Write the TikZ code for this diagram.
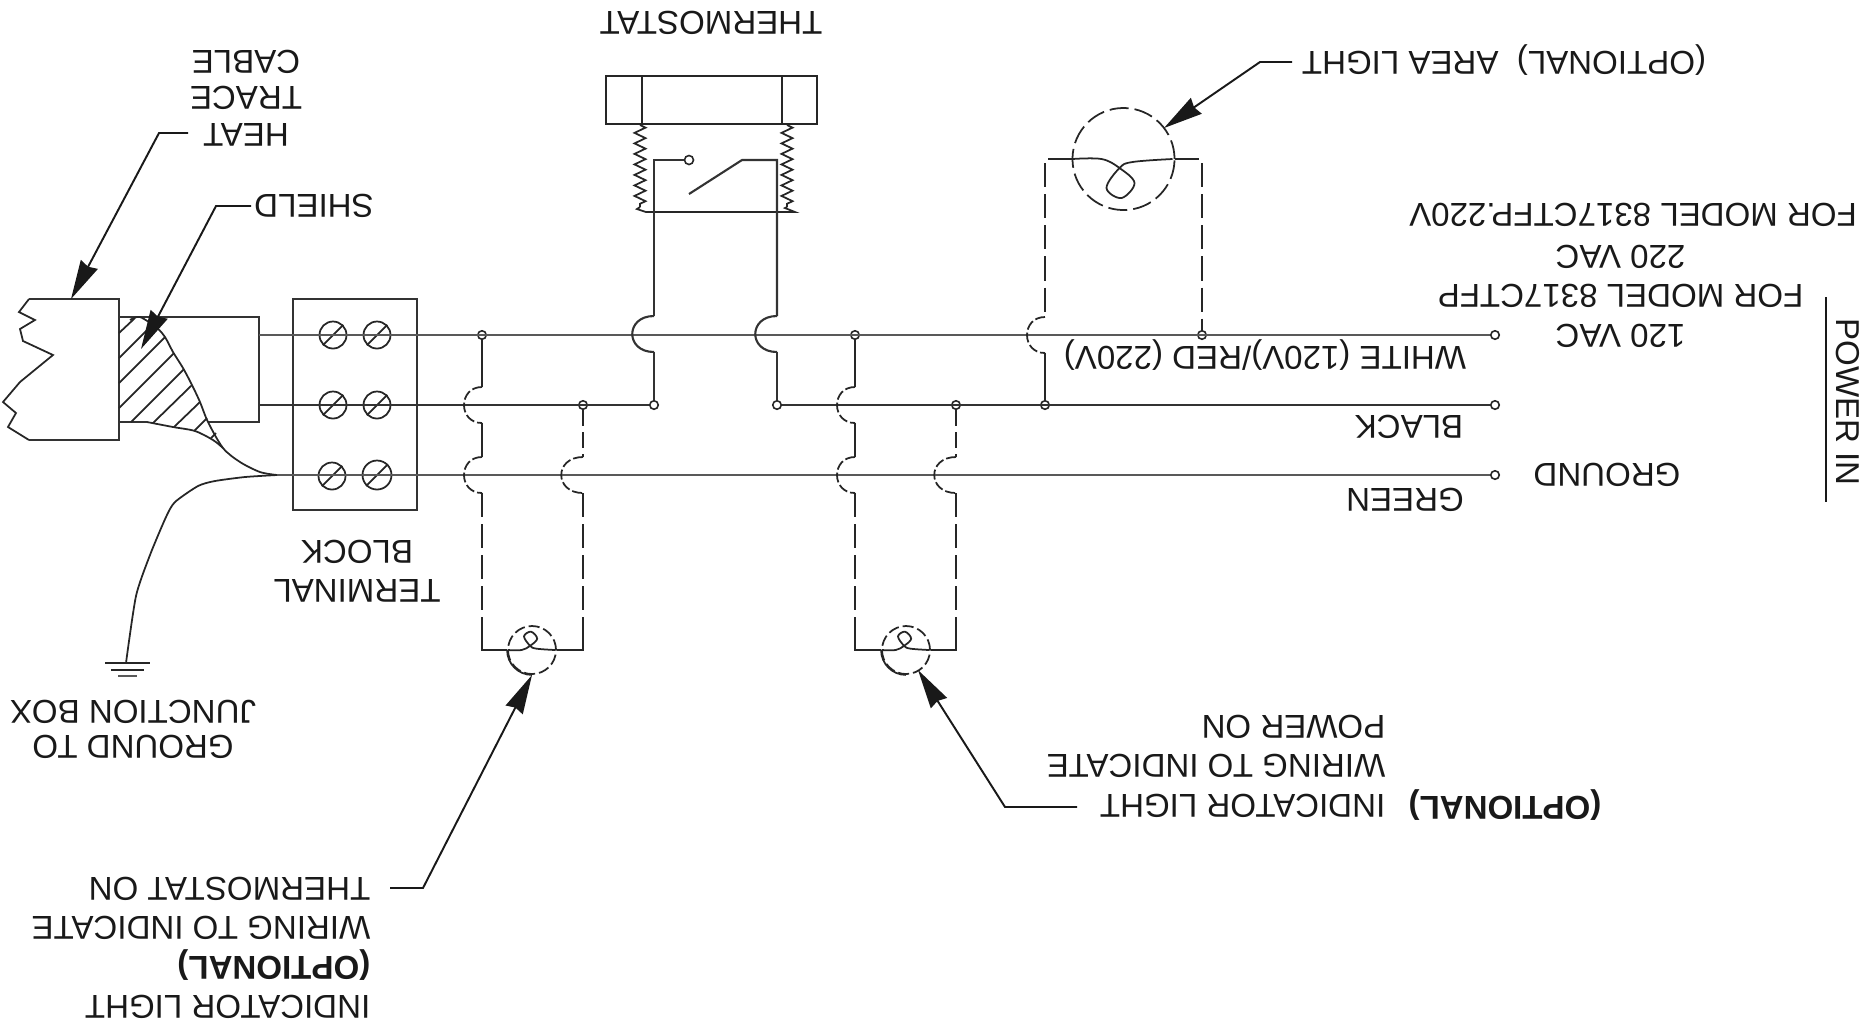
\documentclass[tikz,border=0pt]{standalone}
\usepackage{fontspec}
\setmainfont{Liberation Sans}
\usetikzlibrary{arrows.meta,decorations.pathmorphing}

% Line jumps over a wire, always 36 tall
\newcommand{\hop}{.. controls +(-24,0) and +(-24,0) .. ++(0,36)}
\newcommand{\hopwide}{.. controls +(-29,0) and +(-29,0) .. ++(0,36)}

\tikzset{
    wire/.style={line width=0.75pt,draw=black!65},
    mid wire/.style={line width=0.6pt,draw=black!80},
    thin wire/.style={line width=0.5pt,draw=black!85},
    hopline/.style={line width=0.5pt,draw=black!85,dash pattern=on 1mm off .3mm},
    stubline/.style={line width=0.5pt,draw=black!85,dash pattern=on 1.6mm off .6mm},
    optline/.style={line width=0.5pt,draw=black!85,dash pattern=on 2.4mm off .7mm},
    leader/.style={line width=0.55pt,draw=black!90},
    pointer/.style={leader,-{Stealth[length=3.9mm,width=1.9mm,inset=.25mm]}},
    label/.style={rotate=180,font=\fontsize{9.4}{11.2}\selectfont,text=black!90,inner sep=0pt},
    dot/.style={circle,draw=black!85,line width=0.45pt,minimum size=.085cm,inner sep=0pt},
    screwhead/.style={circle,draw=black!85,line width=0.5pt,inner sep=0pt},
    lampring/.style={circle,draw=black!85,line width=0.5pt,inner sep=0pt},
    filament/.pic={
        \draw[thin wire] plot[smooth,tension=.6] coordinates
            {(-51,0) (-22,0) (-4,9) (11,24) (-2,39) (-17,29) (-4,9) (9,3) (49,0)};
    }
}

\begin{document}
\begin{tikzpicture}[x=0.01cm,y=-0.01cm]
\useasboundingbox (0,0) rectangle (1870,1029);

% Heat trace cable end
\draw[mid wire] (29,299) -- (119,299) -- (119,440) -- (29,440);
\draw[thin wire] (29,299) -- (19,312) -- (35,320) -- (20,329) -- (23,341) -- (53,355)
    -- (20,382) -- (3,402) -- (16,413) -- (8,427) -- (29,440);
\draw[mid wire] (119,422) -- (119,317) -- (259,317) -- (259,422) -- (208,422);
\draw[mid wire] (119,422) -- (147,422);

% Shield
\draw[thin wire] plot[smooth,tension=.5] coordinates
    {(130,320) (140,317) (157,328) (165,337) (173,352) (183,368) (192,385) (200,402)
     (208,422) (223,448) (240,462) (260,472) (277,475)};
\draw[thin wire] plot[smooth,tension=.5] coordinates
    {(147,422) (173,427) (195,431) (213,440) (223,448)};
\foreach \xa/\ya/\xb/\yb in {119/333/135/318,119/358/147/330,119/383/165/337,119/408/174/353,
    131/422/184/369,153/423/192/385,174/427/200/402,194/431/207/418,211/438/216/433}
    \draw[thin wire] (\xa,\ya) -- (\xb,\yb);

% Terminal block
\node[mid wire,draw,minimum width=1.24cm,minimum height=2.11cm,inner sep=0pt]
    (block) at (355,404.5) {};
\foreach \name/\xx/\yy/\size in {a1/333/335/.27cm,b1/377/335/.27cm,a2/333/405/.27cm,
    b2/377/405/.27cm,a3/332/476/.27cm,b3/377/475/.29cm}
{
    \node[screwhead,minimum size=\size] (screw\name) at (\xx,\yy) {};
    \draw[thin wire] (screw\name.225) -- (screw\name.45);
}

% Input wires
\foreach \yy in {335,405,475}
    \node[dot] (end\yy) at (1495,\yy) {};
\foreach \dx/\dy in {482/335,855/335,1202/335,583/405,654/405,777/405,956/405,1045/405}
    \node[dot] (dot\dx) at (\dx,\dy) {};
\draw[wire] (259,335) -- (end335);
\draw[mid wire] (259,405) -- (dot654);
\draw[mid wire] (dot777) -- (end405);
\draw[wire] (277,475) -- (end475);

% Ground tail
\draw[thin wire] plot[smooth,tension=.4] coordinates
    {(277,475) (245,477) (215,481) (198,486) (175,502) (166,517) (150,555) (136,596) (126,663)};
\draw[thin wire] (105,663) -- (150,663);
\draw[thin wire] (111,670) -- (144,670);
\draw[wire] (118,676) -- (137,676);

% Thermostat
\node[draw=black!85,line width=0.6pt,minimum width=2.11cm,minimum height=.48cm,inner sep=0pt]
    (stat) at (711.5,100) {};
\draw[thin wire] (642,76) -- (642,124);
\draw[thin wire] (782,76) -- (782,124);
\draw[thin wire,decorate,decoration={zigzag,segment length=1.05mm,amplitude=.55mm}]
    (640,125) -- (640,207);
\draw[thin wire,decorate,decoration={zigzag,segment length=1.05mm,amplitude=.55mm}]
    (787,125) -- (787,207);
\draw[thin wire] (640,207) -- (637,209) -- (646,212) -- (795,212) -- (785,208) -- (787,207);

% Switch
\node[dot,minimum size=.09cm] (contact) at (689,160) {};
\draw[mid wire] (contact) -- (654,160) -- (654,316) coordinate(a);
\draw[mid wire] (a) \hopwide coordinate(b);
\draw[mid wire] (b) -- (dot654);
\draw[mid wire] (689,194) -- (742,160) -- (777,160) -- (777,316) coordinate(a);
\draw[mid wire] (a) \hopwide coordinate(b);
\draw[mid wire] (b) -- (dot777);

% Area light
\node[lampring,minimum size=1.02cm,dash pattern=on 1.9mm off .6mm] (lampc) at (1123.5,159) {};
\pic at (lampc) {filament};
\draw[optline] (lampc.west) -- (1045,159) -- (1045,317) coordinate(a);
\draw[hopline] (a) \hop coordinate(b);
\draw[thin wire] (b) -- (dot1045);
\draw[optline] (lampc.east) -- (1202,159) -- (dot1202);

% Indicator lights
\foreach \lx/\px/\qx/\name in {532/482/583/a,906/855/956/b}
{
    \node[lampring,minimum size=.48cm,dash pattern=on 1.1mm off .4mm] (lamp\name) at (\lx,650) {};
    \draw[thin wire] (lamp\name.180) to[out=-90,in=180] (lamp\name.-90);
    \pic[xscale=.47,yscale=-.47] at (lamp\name) {filament};
    \draw[thin wire] (dot\px) -- ++(0,52) coordinate(a);
    \draw[hopline] (a) \hop coordinate(b);
    \draw[thin wire] (b) -- ++(0,34) coordinate(a);
    \draw[hopline] (a) \hop coordinate(b);
    \draw[optline] (b) -- (\px,627);
    \draw[thin wire] (\px,627) -- (\px,650) -- (lamp\name.west);
    \draw[stubline] (dot\qx) -- ++(0,52) coordinate(a);
    \draw[hopline] (a) \hopwide coordinate(b);
    \draw[optline] (b) -- (\qx,627);
    \draw[thin wire] (\qx,627) -- (\qx,650) -- (lamp\name.east);
}

% Pointers
\draw[pointer] (188,133) -- (159,133) -- (71,299);
\draw[pointer] (251,206) -- (216,206) -- (141,349);
\draw[pointer] (1292,62) -- (1260,62) -- (1164,128);
\draw[pointer] (390,888) -- (423,888) -- (532,675);
\draw[pointer] (1077,807) -- (1005,807) -- (918,670);

% Power in bar
\draw[leader] (1826,297) -- (1826,502);

% Labels
\node[label] (thermostat) at (711,23) {THERMOSTAT};
\node[label,align=center,font=\fontsize{9.4}{10.3}\selectfont] (cable) at (246,98) {HEAT\\TRACE\\CABLE};
\node[label] (shield) at (314,206) {SHIELD};
\node[label] (arealight) at (1504,60) {(OPTIONAL)\ \ AREA LIGHT};
\node[label,align=center] (models) at (1620.5,296) {120 VAC\\FOR MODEL 8317CTFP\\220 VAC};
\node[label] (modelb) at (1633,215) {FOR MODEL 8317CTFP.220V};
\node[label,rotate=90] (powerin) at (1848,402) {POWER IN};
\node[label] (groundin) at (1607,475) {GROUND};
\node[label] (white) at (1265,355) {WHITE (120V)/RED (220V)};
\node[label] (black) at (1409,427) {BLACK};
\node[label] (green) at (1405,500) {GREEN};
\node[label,align=center] (blocklabel) at (357,571) {TERMINAL\\BLOCK};
\node[label,align=center,font=\fontsize{9.4}{10}\selectfont] (junction) at (133,729) {GROUND TO\\JUNCTION BOX};
\node[label,align=left] (statlight) at (201,948) {INDICATOR LIGHT\\\textbf{(OPTIONAL)}\\WIRING TO INDICATE\\THERMOSTAT ON};
\node[label,align=left] (powerlight) at (1216,766) {INDICATOR LIGHT\\WIRING TO INDICATE\\POWER ON};
\node[label] (optional) at (1505,805) {\textbf{(OPTIONAL)}};

\end{tikzpicture}
\end{document}
